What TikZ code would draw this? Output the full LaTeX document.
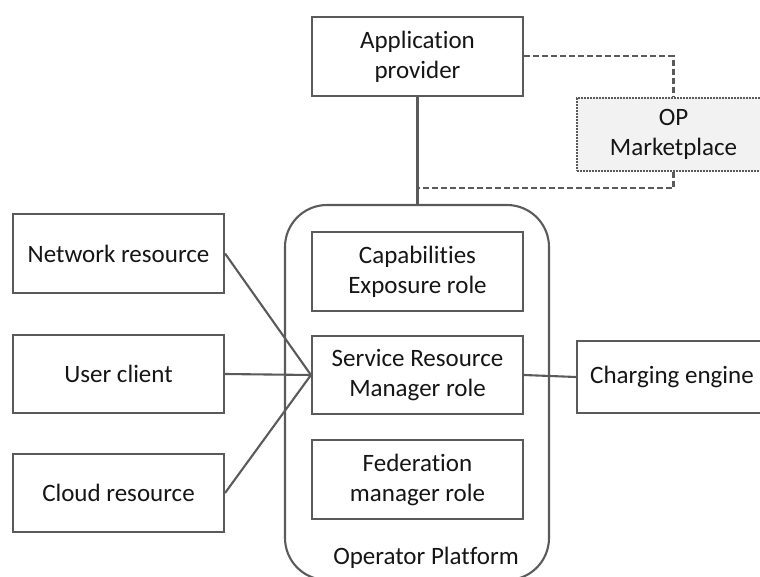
\documentclass[tikz,border=0pt]{standalone}
\usepackage{fontspec}
\setmainfont{Carlito}[Ligatures=NoCommon]
\definecolor{ln}{HTML}{5A5A5A}
\definecolor{tx}{HTML}{151515}
\definecolor{mk}{HTML}{F2F2F2}
\begin{document}
\begin{tikzpicture}[x=1pt,y=-1pt,
  every node/.style={font=\fontsize{25}{30}\selectfont, text=tx, align=center, inner sep=0pt},
  box/.style={draw=ln, line width=2.1pt, minimum width=211pt, minimum height=79pt},
  conn/.style={draw=ln, line width=2.1pt},
  dconn/.style={draw=ln, line width=2.1pt, dash pattern=on 6pt off 3pt},
  market/.style={draw=ln, fill=mk, line width=1.8pt, dash pattern=on 1.6pt off 1.4pt, minimum width=193pt, minimum height=73pt},
  platform/.style={draw=ln, line width=2.1pt, rounded corners=42pt, minimum width=264pt, minimum height=375pt}]
\useasboundingbox (0,0) rectangle (760,577);
\clip (0,0) rectangle (760,577);
\node[platform] (plat) at (417,392.5) {};
\node (optxt) at (426,558) {Operator Platform};
\node[box] (app) at (417.5,56.5) {Application\\provider};
\node[market] (mkt) at (673.5,134.5) {OP\\Marketplace};
\node[box] (cap) at (417.5,271.5) {Capabilities\\Exposure role};
\node[box, minimum height=78pt] (srm) at (417.5,375) {Service Resource\\Manager role};
\node[box] (fed) at (417.5,479.5) {Federation\\manager role};
\node[box] (net) at (118.5,253.5) {Network resource};
\node[box, minimum height=78pt] (usr) at (118.5,374) {User client};
\node[box, minimum height=78pt] (cld) at (118.5,493) {Cloud resource};
\node[box, minimum width=190pt, minimum height=72pt] (chg) at (672,377) {Charging engine};
\coordinate (jn) at (417.5,188);
\draw[conn] (app.south) -- (app.south |- plat.north);
\draw[dconn] (app.east |- 0,56) -| (mkt.north);
\draw[dconn] (mkt.south) |- (jn);
\draw[conn] (net.east) -- (srm.west);
\draw[conn] (usr.east) -- (srm.west);
\draw[conn] (cld.east) -- (srm.west);
\draw[conn] (srm.east) -- (chg.west);
\end{tikzpicture}
\end{document}
